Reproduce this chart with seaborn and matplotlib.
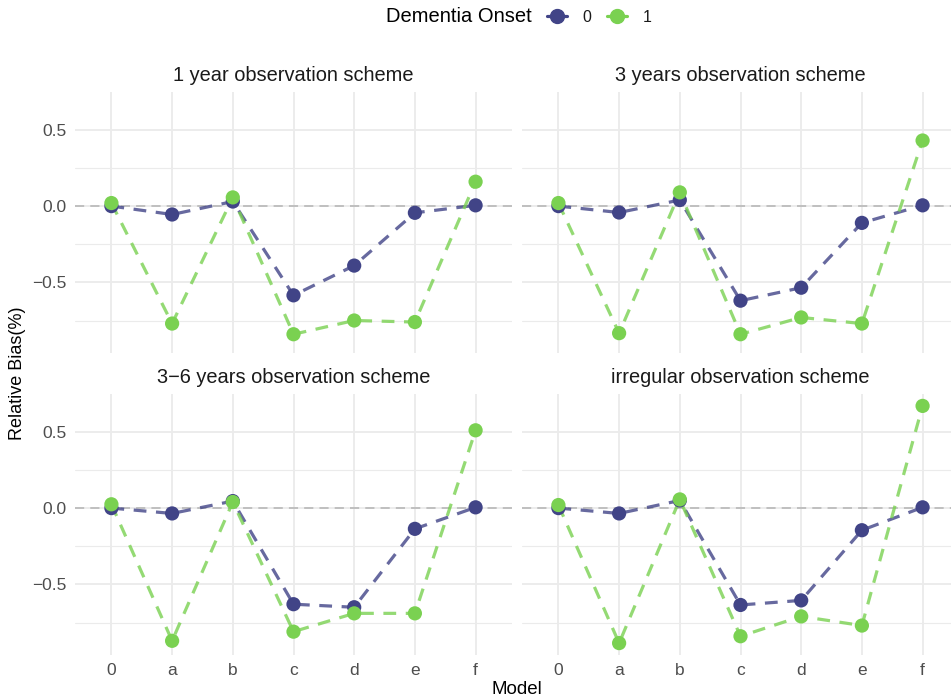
import matplotlib.pyplot as plt
from matplotlib.lines import Line2D
import seaborn as sns
import pandas as pd

# model labels on the x axis and facet titles
models = ["0", "a", "b", "c", "d", "e", "f"]
schemes = ["1 year observation scheme", "3 years observation scheme",
           "3\u22126 years observation scheme", "irregular observation scheme"]

# relative bias, onset 0 / onset 1 for each scheme
bias0_1y = [0.0, -0.055, 0.03, -0.585, -0.39, -0.044, 0.005]
bias1_1y = [0.02, -0.77, 0.057, -0.84, -0.75, -0.76, 0.16]
bias0_3y = [0.0, -0.042, 0.04, -0.62, -0.535, -0.11, 0.005]
bias1_3y = [0.02, -0.833, 0.09, -0.84, -0.73, -0.77, 0.43]
bias0_36y = [0.0, -0.035, 0.046, -0.63, -0.65, -0.136, 0.005]
bias1_36y = [0.025, -0.87, 0.04, -0.81, -0.69, -0.69, 0.51]
bias0_irr = [0.0, -0.035, 0.05, -0.635, -0.605, -0.145, 0.005]
bias1_irr = [0.02, -0.885, 0.057, -0.84, -0.71, -0.77, 0.67]

series = {
    schemes[0]: (bias0_1y, bias1_1y),
    schemes[1]: (bias0_3y, bias1_3y),
    schemes[2]: (bias0_36y, bias1_36y),
    schemes[3]: (bias0_irr, bias1_irr),
}

rows = []
for sch, (b0, b1) in series.items():
    for m, v in zip(models, b0):
        rows.append({"scheme": sch, "Model": m, "onset": "0", "bias": v})
    for m, v in zip(models, b1):
        rows.append({"scheme": sch, "Model": m, "onset": "1", "bias": v})
df = pd.DataFrame(rows)

pal = {"0": "#414487", "1": "#7AD151"}

sns.set_style("white")
plt.rcParams["font.family"] = ["Liberation Sans", "DejaVu Sans"]

W, H = 951, 700
fig = plt.figure(figsize=(W / 100, H / 100), dpi=100)

# panel boxes in pixels: left, top, width, height
boxes = [(75, 92, 437, 261), (522, 92, 437, 261),
         (75, 394, 437, 261), (522, 394, 437, 261)]

ymin, ymax = -0.963, 0.748

for i, sch in enumerate(schemes):
    l, t, w, h = boxes[i]
    ax = fig.add_axes([l / W, 1 - (t + h) / H, w / W, h / H])
    sub = df[df.scheme == sch].copy()
    sub["x"] = sub["Model"].map({m: k for k, m in enumerate(models)})

    ax.axhline(0, color="#B3B3B3", lw=1.1, ls=(0, (6, 4)), zorder=1)
    sns.lineplot(data=sub, x="x", y="bias", hue="onset", palette=pal,
                 sort=False, legend=False, ax=ax, lw=2.3, alpha=0.8,
                 linestyle=(0, (4, 3)), zorder=2)
    sns.scatterplot(data=sub, x="x", y="bias", hue="onset", palette=pal,
                    s=105, edgecolor="none", legend=False, ax=ax, zorder=3)

    ax.set_xlim(-0.6, 6.6)
    ax.set_ylim(ymin, ymax)
    ax.set_xticks(range(len(models)))
    ax.set_xticklabels(models)
    ax.set_yticks([-0.5, 0.0, 0.5])
    ax.set_yticks([-0.75, -0.25, 0.25], minor=True)
    ax.grid(True, which="major", color="#EBEBEB", lw=1.3)
    ax.grid(True, which="minor", axis="y", color="#EBEBEB", lw=0.8)
    ax.set_axisbelow(True)
    for s in ax.spines.values():
        s.set_visible(False)
    ax.tick_params(length=0, labelsize=12.5, labelcolor="#4D4D4D", pad=6)
    ax.tick_params(axis="y", which="minor", length=0)
    ax.set_xlabel("")
    ax.set_ylabel("")
    if i % 2 == 1:
        ax.set_yticklabels([])
    else:
        ax.set_yticklabels(["\u22120.5", "0.0", "0.5"])
    if i < 2:
        ax.set_xticklabels([])
    ax.text(0.5, 1.062, sch, transform=ax.transAxes, ha="center",
            va="center", fontsize=14.4, color="#1A1A1A")

fig.text(517 / W, 1 - 690 / H, "Model", ha="center", va="center",
         fontsize=13.5, color="black")
fig.text(18 / W, 1 - 373 / H, "Relative Bias(%)", ha="center",
         va="center", rotation=90, fontsize=13, color="black")

fig.text(459 / W, 1 - 17 / H, "Dementia Onset", ha="center",
         va="center", fontsize=14.5, color="black")
handles = [Line2D([0], [0], color=pal[k], marker="o", markersize=10,
                  lw=2.3, ls="-") for k in ["0", "1"]]
fig.legend(handles, ["0", "1"], loc="center left",
           bbox_to_anchor=(533 / W, 1 - 17 / H), ncol=2, frameon=False,
           fontsize=11.5, handlelength=1.2, handletextpad=1.0,
           columnspacing=1.0, labelcolor="#1A1A1A")

fig.savefig("out.png", dpi=100, facecolor="white")
